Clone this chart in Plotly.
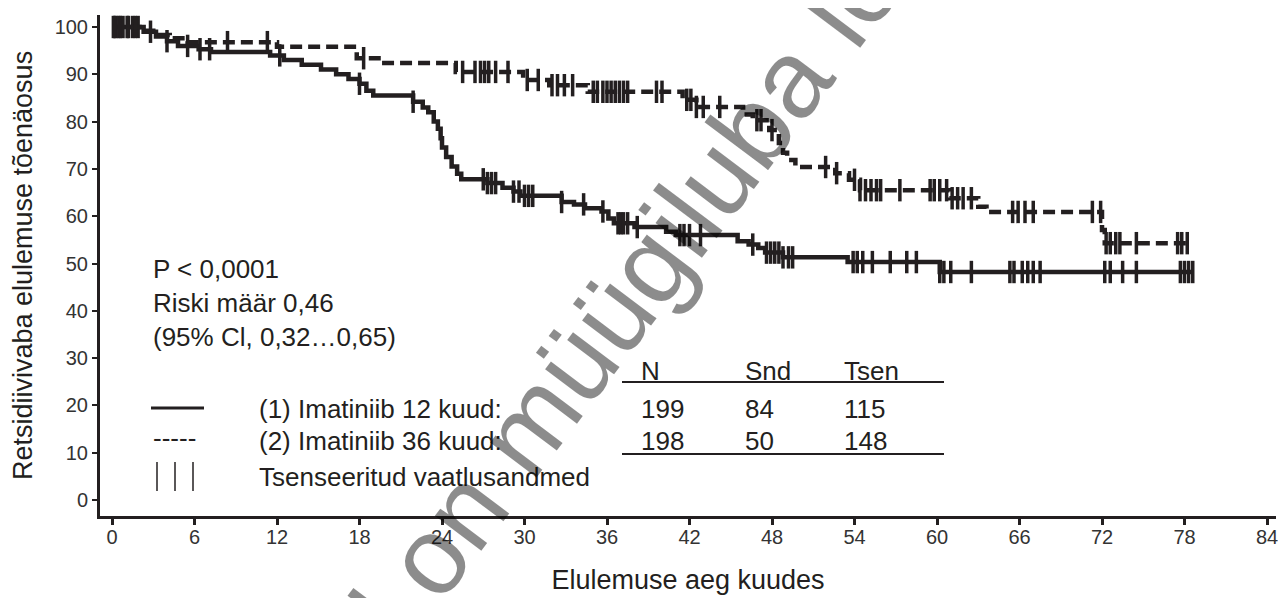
import numpy as np
import plotly.graph_objects as go

# ---------------- data ----------------
arm1_name = "(1) Imatiniib 12 kuud:"
arm1_times = [0, 2.3, 3.2, 4.0, 4.8, 6.3, 7.2, 11.5, 12.5, 13.8, 15.2, 16.3, 17.2, 18.0, 18.5, 19.0,
              21.9, 22.6, 23.0, 23.4, 23.7, 23.9, 24.0, 24.3, 24.7, 25.1, 25.4, 27.3, 28.4, 29.2, 29.7,
              32.7, 33.6, 34.4, 35.6, 36.1, 36.5, 38.0, 40.3, 41.0, 45.5, 46.3, 47.0, 47.5, 48.8, 53.5, 60.2]
arm1_surv = [100, 99, 98, 97, 96, 95.3, 94.7, 94, 93, 92, 91, 90, 89, 88, 86.5, 85.5,
             84.2, 83, 82, 80, 78.5, 76.5, 74.5, 72.5, 70.5, 69, 67.8, 67, 66, 65.2, 64.3,
             63, 62.5, 61.7, 61, 59.5, 58.5, 57.7, 56.7, 56, 54.7, 54, 53.3, 52.3, 51.3, 50.3, 48.2]
arm1_end = 78.6
arm1_censored = [0.1, 0.3, 0.6, 1.1, 1.5, 1.9, 2.8, 4.0, 5.5, 6.4, 7.1, 12.2, 18.0, 21.9,
                 27.0, 27.3, 27.6, 27.9, 29.2, 29.6, 30.0, 30.3, 30.6, 32.7, 34.3, 35.7,
                 36.8, 37.0, 37.2, 37.5, 38.2, 41.3, 41.6, 42.0, 42.8, 46.6, 47.6, 47.9, 48.2,
                 48.5, 48.8, 49.2, 49.5, 53.9, 54.2, 54.6, 55.3, 56.6, 57.8, 58.5, 60.2, 60.5,
                 61.0, 62.5, 65.3, 65.6, 66.2, 66.6, 67.0, 67.5, 72.2, 72.6, 73.5, 74.5,
                 77.7, 78.0, 78.3, 78.6]

arm2_name = "(2) Imatiniib 36 kuud:"
arm2_times = [0, 2.0, 3.0, 4.2, 5.5, 12.0, 17.8, 19.6, 25.0, 29.9, 31.8, 34.6, 41.5, 42.5, 45.9,
              46.6, 47.8, 48.5, 48.8, 49.1, 49.7, 52.6, 53.6, 54.4, 60.9, 63.0, 63.6, 72.0, 72.2]
arm2_surv = [100, 99.2, 98.3, 97.6, 96.8, 95.8, 93.4, 92.4, 90.5, 88.8, 87.7, 86.3, 84.6, 83.1, 81.5,
             80.3, 78.2, 75.5, 73.4, 71.9, 70.4, 69.1, 67.7, 65.5, 63.8, 62, 60.9, 57.1, 54.3]
arm2_end = 78.2
arm2_censored = [0.2, 0.5, 0.8, 1.2, 1.7, 8.4, 11.3, 18.3, 25.5, 26.4, 26.8, 27.1, 27.4, 27.9,
                 28.8, 30.2, 31.0, 32.0, 32.4, 32.9, 33.5, 35.0, 35.3, 35.7, 36.0, 36.3, 36.6,
                 36.9, 37.2, 37.5, 39.6, 40.0, 41.8, 42.1, 42.5, 43.0, 44.2, 46.9, 47.2, 48.0,
                 51.9, 52.7, 54.0, 54.4, 54.8, 55.2, 55.6, 55.9, 57.3, 59.5, 59.8, 60.2, 60.7,
                 61.1, 61.5, 61.9, 62.5, 65.5, 65.9, 66.4, 67.0, 71.3, 71.9, 72.3, 72.6, 73.0,
                 73.3, 74.5, 77.5, 77.8, 78.2]

x_ticks = list(range(0, 85, 6))
y_ticks = list(range(0, 101, 10))

table_header = ["N", "Snd", "Tsen"]
table_rows = [["199", "84", "115"], ["198", "50", "148"]]
stats_lines = ["P < 0,0001", "Riski määr 0,46", "(95% Cl, 0,32…0,65)"]
censor_label = "Tsenseeritud vaatlusandmed"
x_title = "Elulemuse aeg kuudes"
y_title = "Retsidiivivaba elulemuse tõenäosus"
watermark = "Ravimil on müügiluba lõppenud"

# ---------------- styling ----------------
INK = "#231f20"
FONT = "Liberation Sans, Arial, sans-serif"
PAGE_OFF = 8            # default body margin of the html page
W, H = 1286 - PAGE_OFF, 598 - PAGE_OFF

# page-pixel -> data helpers for placing decorations
X0PX, PXM = 112.0, 13.75
Y0PX, PXP = 500.0, 4.73


def mx(px):
    return (px - X0PX) / PXM


def my(py):
    return (Y0PX - py) / PXP


def censor_y(times, surv, cens):
    t = np.asarray(times)
    s = np.asarray(surv)
    idx = np.searchsorted(t, np.asarray(cens), side="right") - 1
    return s[idx]


fig = go.Figure()

for times, surv, end, cens, name, dash in [
    (arm1_times, arm1_surv, arm1_end, arm1_censored, arm1_name, "solid"),
    (arm2_times, arm2_surv, arm2_end, arm2_censored, arm2_name, "12px,6px"),
]:
    fig.add_trace(go.Scatter(
        x=list(times) + [end], y=list(surv) + [surv[-1]],
        mode="lines", line=dict(shape="hv", color=INK, width=4.5, dash=dash),
        name=name, showlegend=False, hoverinfo="skip"))
    fig.add_trace(go.Scatter(
        x=cens, y=censor_y(times, surv, cens), mode="markers",
        marker=dict(symbol="line-ns", size=16, line=dict(color=INK, width=3.5)),
        showlegend=False, hoverinfo="skip"))

annos = []
txt_font = dict(family=FONT, size=26, color=INK)
for i, line in enumerate(stats_lines):
    annos.append(dict(x=mx(151), y=my(269 + 34 * i), text=line, xanchor="left", yanchor="middle",
                      showarrow=False, font=txt_font))

col_px = [639, 743, 842]
for j, h in enumerate(table_header):
    annos.append(dict(x=mx(col_px[j]), y=my(371), text=h, xanchor="left", yanchor="middle",
                      showarrow=False, font=txt_font))
for r, row in enumerate(table_rows):
    for j, v in enumerate(row):
        annos.append(dict(x=mx(col_px[j]), y=my(409 + 32 * r), text=v, xanchor="left",
                          yanchor="middle", showarrow=False, font=txt_font))

for k, lab in enumerate([arm1_name, arm2_name, censor_label]):
    annos.append(dict(x=mx(257), y=my([409, 441, 477][k]), text=lab, xanchor="left",
                      yanchor="middle", showarrow=False, font=txt_font))
annos.append(dict(x=mx(151), y=my(438), text="-----", xanchor="left", yanchor="middle",
                  showarrow=False, font=txt_font))

annos.append(dict(x=mx(635), y=my(282), text=watermark, textangle=-53, showarrow=False,
                  font=dict(family=FONT, size=110, color="rgba(0,0,0,0.45)")))

shapes = [
    dict(type="line", x0=mx(151), x1=mx(204), y0=my(408), y1=my(408),
         line=dict(color=INK, width=3)),
    dict(type="line", x0=mx(622), x1=mx(944), y0=my(382), y1=my(382),
         line=dict(color=INK, width=2)),
    dict(type="line", x0=mx(622), x1=mx(944), y0=my(454), y1=my(454),
         line=dict(color=INK, width=2)),
]
for px in [157, 175, 193]:
    shapes.append(dict(type="line", x0=mx(px), x1=mx(px), y0=my(462), y1=my(491),
                       line=dict(color=INK, width=1.5)))

fig.update_layout(
    width=W, height=H,
    paper_bgcolor="white", plot_bgcolor="white",
    margin=dict(l=100 - PAGE_OFF, r=W - (1276 - PAGE_OFF), t=15 - PAGE_OFF,
                b=H - (516 - PAGE_OFF), autoexpand=False),
    font=dict(family=FONT, color=INK),
    annotations=annos, shapes=shapes,
    xaxis=dict(range=[mx(100), mx(1276)], tickmode="array", tickvals=x_ticks,
               ticks="outside", ticklen=6, tickwidth=3, tickcolor=INK,
               ticklabelstandoff=-5,
               showline=True, linewidth=3, linecolor=INK, showgrid=False, zeroline=False,
               tickfont=dict(family=FONT, size=20, color="#333"),
               title=dict(text=x_title, font=dict(family=FONT, size=27, color=INK), standoff=24)),
    yaxis=dict(range=[my(516), my(15)], tickmode="array", tickvals=y_ticks,
               ticks="outside", ticklen=5, tickwidth=2, tickcolor=INK,
               showline=True, linewidth=3, linecolor=INK, showgrid=False, zeroline=False,
               tickfont=dict(family=FONT, size=20, color="#333"),
               title=dict(text=y_title, font=dict(family=FONT, size=27, color=INK), standoff=17)),
)

fig.write_html("out.html")
